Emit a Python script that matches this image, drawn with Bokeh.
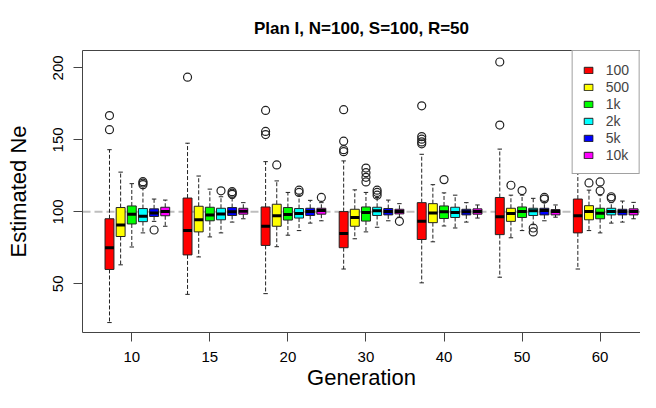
from bokeh.plotting import figure
from bokeh.models import (ColumnDataSource, Range1d, FixedTicker, LinearAxis, Span,
                          Legend, LegendItem)
from bokeh.embed import file_html
from bokeh.resources import INLINE

# ---------------- data ----------------
generations = ["10", "15", "20", "30", "40", "50", "60"]
sizes = ["100", "500", "1k", "2k", "5k", "10k"]
colors = ["#FF0000", "#FFFF00", "#00FF00", "#00FFFF", "#0000FF", "#FF00FF"]

lower = [
    [23.1, 63.2, 75.6, 85.4, 93.4, 90.0],
    [42.7, 68.7, 82.6, 85.4, 92.9, 95.2],
    [43.2, 75.8, 83.8, 87.0, 92.2, 93.8],
    [60.3, 81.3, 86.1, 89.3, 93.8, 96.3],
    [50.7, 79.2, 90.2, 88.8, 92.9, 95.7],
    [54.6, 82.0, 87.0, 91.1, 93.8, 96.3],
    [60.3, 87.0, 85.4, 92.2, 92.9, 95.2],
]
q1 = [
    [60.0, 82.9, 91.6, 93.2, 96.8, 97.3],
    [70.1, 86.1, 93.8, 94.5, 97.5, 98.4],
    [76.7, 90.0, 94.3, 95.7, 97.5, 98.4],
    [75.1, 90.0, 93.6, 97.5, 97.9, 98.6],
    [80.8, 92.5, 95.4, 96.1, 97.9, 98.4],
    [84.2, 93.4, 96.1, 97.5, 97.9, 97.9],
    [85.4, 94.5, 95.2, 97.9, 97.9, 97.9],
]
median = [
    [75.1, 90.9, 98.4, 97.0, 99.3, 100.2],
    [87.0, 94.5, 97.9, 98.6, 100.0, 100.5],
    [90.0, 97.3, 98.2, 98.9, 100.2, 100.9],
    [84.9, 96.1, 99.5, 100.7, 100.2, 100.2],
    [93.4, 99.3, 100.0, 99.5, 100.0, 100.2],
    [96.6, 98.9, 100.2, 100.7, 100.9, 100.2],
    [97.3, 100.2, 99.1, 100.2, 100.2, 100.2],
]
q3 = [
    [95.2, 103.0, 104.1, 102.3, 102.1, 103.2],
    [109.6, 103.9, 103.2, 102.5, 103.0, 102.5],
    [103.4, 105.3, 103.0, 102.3, 102.5, 102.5],
    [100.2, 101.8, 103.4, 103.2, 102.3, 101.8],
    [106.4, 105.7, 104.1, 103.2, 101.8, 102.1],
    [110.0, 102.5, 103.4, 102.5, 102.5, 101.6],
    [108.9, 104.3, 102.5, 102.5, 101.8, 102.1],
]
upper = [
    [143.2, 127.6, 119.6, 116.2, 108.9, 108.2],
    [147.7, 124.9, 115.8, 110.5, 109.4, 106.4],
    [134.9, 121.5, 113.5, 111.6, 108.0, 106.4],
    [135.4, 115.3, 113.5, 110.0, 108.2, 105.7],
    [140.0, 118.9, 113.2, 111.6, 106.4, 104.8],
    [143.6, 111.6, 111.6, 109.4, 106.6, 104.8],
    [141.1, 115.1, 111.6, 106.4, 107.5, 106.6],
]
outliers = [
    [[166.9, 157.1], [], [], [121.0, 120.0, 118.9], [87.4], []],
    [[193.6], [], [], [114.6], [114.0, 113.0, 112.2], []],
    [[170.5, 155.9, 153.7], [132.6], [], [115.1, 113.5], [], [110.0]],
    [[171.0, 149.1, 143.2, 141.8], [], [130.4, 127.2, 124.0, 120.8], [115.1, 113.5, 111.6], [], [93.4]],
    [[173.7, 152.3, 150.5, 148.6, 147.3], [], [122.4], [], [], []],
    [[204.1, 160.3], [118.5], [114.8], [88.8, 86.1], [110.0, 108.9], []],
    [[], [120.1], [120.8, 114.6], [110.5, 109.4], [], []],
]
title_text = "Plan I, N=100, S=100, R=50"
x_title = "Generation"
y_title = "Estimated Ne"

FONT = "Liberation Sans"
EDGE = "#222222"
AXC = "#444444"
GROUP = len(sizes) + 1
BOXW = 0.8

def pos(g, s):
    return GROUP * g + s + 1

p = figure(width=640, height=392, output_backend="svg", toolbar_location=None,
           x_range=Range1d(-1.42, 48.62), y_range=Range1d(16.2, 212.1),
           min_border_left=82, min_border_right=0, min_border_top=50, min_border_bottom=56)
p.grid.visible = False
p.outline_line_color = None
p.background_fill_color = "white"
p.border_fill_color = "white"

# reference line at 100
p.add_layout(Span(location=100, dimension="width", line_color="#BEBEBE",
                  line_dash="8 4", line_width=2, level="underlay"))

# whiskers (dashed) and staples
wx, wy0, wy1 = [], [], []
sx0, sx1, sy = [], [], []
for g in range(len(generations)):
    for s in range(len(sizes)):
        x = pos(g, s)
        wx += [x, x]
        wy0 += [q3[g][s], q1[g][s]]
        wy1 += [upper[g][s], lower[g][s]]
        sx0 += [x - 0.2, x - 0.2]
        sx1 += [x + 0.2, x + 0.2]
        sy += [upper[g][s], lower[g][s]]
p.segment(x0=wx, y0=wy0, x1=wx, y1=wy1, line_color=EDGE, line_dash="4 2", line_width=1)
p.segment(x0=sx0, y0=sy, x1=sx1, y1=sy, line_color=EDGE, line_width=1)

# boxes, one renderer per sample size
items = []
for s, (lab, col) in enumerate(zip(sizes, colors)):
    src = ColumnDataSource(dict(
        x=[pos(g, s) for g in range(len(generations))],
        top=[q3[g][s] for g in range(len(generations))],
        bottom=[q1[g][s] for g in range(len(generations))],
    ))
    r = p.vbar(x="x", top="top", bottom="bottom", width=BOXW, source=src,
               fill_color=col, line_color=EDGE, line_width=1)
    items.append(LegendItem(label=lab, renderers=[r]))

# medians
mx0, mx1, my = [], [], []
for g in range(len(generations)):
    for s in range(len(sizes)):
        x = pos(g, s)
        mx0.append(x - BOXW / 2)
        mx1.append(x + BOXW / 2)
        my.append(median[g][s])
p.segment(x0=mx0, y0=my, x1=mx1, y1=my, line_color="black", line_width=3)

# outliers
ox, oy = [], []
for g in range(len(generations)):
    for s in range(len(sizes)):
        for v in outliers[g][s]:
            ox.append(pos(g, s))
            oy.append(v)
p.scatter(ox, oy, marker="circle", size=8, fill_color=None, line_color=EDGE, line_width=1.2)

# axes
p.xaxis.ticker = FixedTicker(ticks=[pos(g, 2) for g in range(len(generations))])
p.xaxis.major_label_overrides = {pos(g, 2): generations[g] for g in range(len(generations))}
p.yaxis.ticker = FixedTicker(ticks=[50, 100, 150, 200])
p.yaxis.major_label_orientation = "vertical"
for ax in (p.xaxis[0], p.yaxis[0]):
    ax.axis_line_color = AXC
    ax.major_tick_line_color = AXC
    ax.major_tick_out = 9
    ax.major_tick_in = 0
    ax.minor_tick_line_color = None
    ax.major_label_text_font = FONT
    ax.major_label_text_font_size = "15px"
    ax.major_label_text_color = "black"
    ax.axis_label_text_font = FONT
    ax.axis_label_text_font_size = "22px"
    ax.axis_label_text_font_style = "normal"
    ax.axis_label_text_color = "black"
p.xaxis.axis_label = x_title
p.yaxis.axis_label = y_title
p.xaxis.major_label_standoff = 10
p.xaxis.axis_label_standoff = 0
p.yaxis.major_label_standoff = 10
p.yaxis.axis_label_standoff = 20

top_axis = LinearAxis(ticker=FixedTicker(ticks=[]), axis_line_color=AXC,
                      major_tick_line_color=None, minor_tick_line_color=None,
                      major_label_text_font_size="0px")
p.add_layout(top_axis, "above")

# title
p.title.text = title_text
p.title.text_font = FONT
p.title.text_font_size = "17px"
p.title.text_font_style = "bold"
p.title.text_color = "black"
p.title.align = "center"
p.title.vertical_align = "top"
p.title.standoff = 22

legend = Legend(items=items, location="top_right", margin=0, padding=10,
                spacing=0, label_height=17, glyph_width=11, glyph_height=8,
                label_standoff=12, label_text_font=FONT, label_text_font_size="14px",
                border_line_color=AXC, border_line_width=1,
                background_fill_color="white", background_fill_alpha=1.0)
p.add_layout(legend, "center")

open("out.html", "w").write(file_html(p, INLINE))
